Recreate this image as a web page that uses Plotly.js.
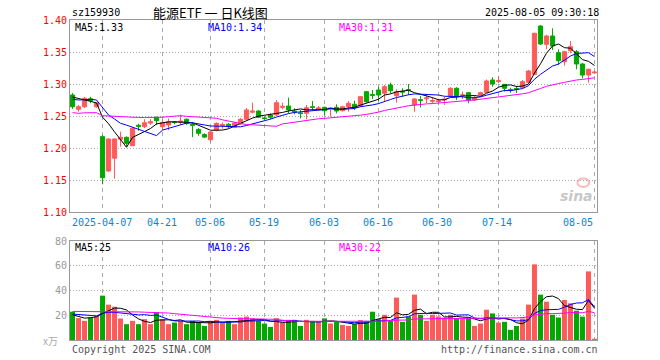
<!DOCTYPE html>
<html><head><meta charset="utf-8">
<script src="https://cdn.plot.ly/plotly-3.0.1.min.js"></script>
<style>html,body{margin:0;padding:0;background:#fff}#chart{width:660px;height:360px}</style>
</head><body><div id="chart"></div>
<script>
const dates = ['2025-03-28','2025-03-31','2025-04-01','2025-04-02','2025-04-03','2025-04-07','2025-04-08','2025-04-09','2025-04-10','2025-04-11',
'2025-04-14','2025-04-15','2025-04-16','2025-04-17','2025-04-18','2025-04-21','2025-04-22','2025-04-23','2025-04-24','2025-04-25',
'2025-04-28','2025-04-29','2025-04-30','2025-05-06','2025-05-07','2025-05-08','2025-05-09','2025-05-12','2025-05-13','2025-05-14',
'2025-05-15','2025-05-16','2025-05-19','2025-05-20','2025-05-21','2025-05-22','2025-05-23','2025-05-26','2025-05-27','2025-05-28',
'2025-05-29','2025-05-30','2025-06-03','2025-06-04','2025-06-05','2025-06-06','2025-06-09','2025-06-10','2025-06-11','2025-06-12',
'2025-06-13','2025-06-16','2025-06-17','2025-06-18','2025-06-19','2025-06-20','2025-06-23','2025-06-24','2025-06-25','2025-06-26',
'2025-06-27','2025-06-30','2025-07-01','2025-07-02','2025-07-03','2025-07-04','2025-07-07','2025-07-08','2025-07-09','2025-07-10',
'2025-07-11','2025-07-14','2025-07-15','2025-07-16','2025-07-17','2025-07-18','2025-07-21','2025-07-22','2025-07-23','2025-07-24',
'2025-07-25','2025-07-28','2025-07-29','2025-07-30','2025-07-31','2025-08-01','2025-08-04','2025-08-05'];

const open = [1.2828,1.2605,1.2645,1.2770,1.2645,1.2177,1.1640,1.1840,1.2136,1.2167,
1.2036,1.2355,1.2333,1.2390,1.2480,1.2333,1.2360,1.2410,1.2400,1.2450,
1.2370,1.2290,1.2210,1.2130,1.2280,1.2350,1.2370,1.2325,1.2375,1.2448,
1.2560,1.2578,1.2470,1.2516,1.2516,1.2635,1.2656,1.2575,1.2548,1.2542,
1.2645,1.2610,1.2636,1.2610,1.2636,1.2583,1.2645,1.2683,1.2661,1.2880,
1.2835,1.2906,1.2855,1.2984,1.2817,1.2885,1.2912,1.2672,1.2755,1.2770,
1.2730,1.2727,1.2752,1.2813,1.2933,1.2820,1.2864,1.2750,1.2828,1.2870,
1.3062,1.3040,1.2995,1.2912,1.2928,1.2942,1.3027,1.3152,1.3906,1.3620,
1.3750,1.3489,1.3348,1.3520,1.3505,1.3312,1.3140,1.3175];

const high = [1.2859,1.2672,1.2797,1.2800,1.2720,1.2203,1.2150,1.2150,1.2255,1.2180,
1.2330,1.2378,1.2450,1.2450,1.2490,1.2450,1.2460,1.2420,1.2520,1.2460,
1.2400,1.2310,1.2230,1.2260,1.2400,1.2400,1.2390,1.2400,1.2470,1.2625,
1.2708,1.2590,1.2490,1.2540,1.2750,1.2708,1.2786,1.2620,1.2594,1.2672,
1.2734,1.2656,1.2645,1.2630,1.2683,1.2660,1.2734,1.2740,1.2810,1.2890,
1.2906,1.2958,1.2984,1.3020,1.2917,1.2933,1.3000,1.2780,1.2810,1.2828,
1.2792,1.2770,1.2800,1.2950,1.2950,1.2880,1.2875,1.2820,1.2880,1.3070,
1.3105,1.3125,1.3000,1.2942,1.2970,1.3062,1.3220,1.3800,1.3922,1.3770,
1.3870,1.3542,1.3520,1.3672,1.3531,1.3330,1.3240,1.3210];

const low = [1.2610,1.2567,1.2625,1.2700,1.2630,1.1433,1.1625,1.1520,1.2020,1.2020,
1.2030,1.2270,1.2310,1.2360,1.2360,1.2280,1.2280,1.2370,1.2360,1.2360,
1.2170,1.2190,1.2160,1.2090,1.2260,1.2300,1.2310,1.2310,1.2360,1.2437,
1.2542,1.2470,1.2440,1.2450,1.2500,1.2605,1.2542,1.2526,1.2464,1.2448,
1.2594,1.2594,1.2505,1.2490,1.2542,1.2570,1.2567,1.2594,1.2640,1.2710,
1.2765,1.2734,1.2723,1.2855,1.2708,1.2802,1.2828,1.2567,1.2635,1.2700,
1.2698,1.2672,1.2672,1.2800,1.2750,1.2766,1.2700,1.2740,1.2810,1.2860,
1.2958,1.3010,1.2880,1.2864,1.2860,1.2930,1.3010,1.3140,1.3610,1.3542,
1.3531,1.3297,1.3286,1.3480,1.3230,1.3089,1.3020,1.3160];

const close = [1.2645,1.2645,1.2777,1.2740,1.2708,1.1536,1.2140,1.2141,1.2167,1.2073,
1.2308,1.2340,1.2395,1.2410,1.2427,1.2395,1.2410,1.2400,1.2420,1.2383,
1.2355,1.2230,1.2170,1.2250,1.2385,1.2365,1.2333,1.2390,1.2448,1.2594,
1.2575,1.2480,1.2460,1.2480,1.2708,1.2650,1.2594,1.2565,1.2538,1.2630,
1.2635,1.2625,1.2583,1.2625,1.2578,1.2645,1.2698,1.2630,1.2802,1.2723,
1.2823,1.2828,1.2958,1.2895,1.2880,1.2875,1.2902,1.2766,1.2745,1.2782,
1.2740,1.2735,1.2762,1.2933,1.2802,1.2830,1.2750,1.2786,1.2864,1.3047,
1.3000,1.3050,1.2933,1.2902,1.2918,1.3036,1.3203,1.3792,1.3625,1.3750,
1.3594,1.3364,1.3505,1.3583,1.3312,1.3140,1.3230,1.3185];

// volume, 万手
const volume = [22.9,17.7,15.5,18.2,19.6,35.9,28.6,26.9,17.4,12.8,
15.5,12.8,16.9,12.8,22.3,16.9,12.8,14.1,15.5,12.8,
15.5,14.1,11.4,15.5,16.3,14.1,15.5,12.8,18.2,18.9,
17.5,15.5,13.3,10.6,17.7,14.1,16.3,16.3,11.4,16.3,
15.5,14.7,17.5,13.3,14.7,12.2,11.4,12.8,16.1,15.5,
22.9,16.9,20.4,15.5,34.3,14.7,19.0,36.7,20.4,15.5,
20.4,19.0,18.2,20.4,17.5,17.5,18.2,11.4,13.3,24.5,
21.5,14.1,14.7,8.2,11.4,17.4,28.6,61.2,36.7,31.0,
20.4,18.2,32.4,29.7,23.7,18.9,55.5,1.0];

const ma5Head = [1.2797,1.2770,1.2750,1.2730];
const ma10Head = [1.2761,1.2750,1.2755,1.2761,1.2750,1.2625,1.2516,1.2453,1.2386];
const ma30Head = [1.2552,1.2542,1.2550,1.2552,1.2552,1.2505,1.2500,1.2500,1.2495,1.2480,
1.2477,1.2477,1.2477,1.2477,1.2477,1.2480,1.2490,1.2500,1.2505,1.2495,
1.2490,1.2490,1.2475,1.2470,1.2465,1.2440,1.2420,1.2400,1.2385];
const vma5Head = [20.4,18.8,17.7,18.0];
const vma10Head = [21.0,20.5,20.0,19.5,19.5,21.6,22.4,22.4,21.8];
const vma30Head = [23.1,23.1,23.0,23.0,23.0,23.2,23.3,23.3,23.2,23.0,
22.9,22.7,22.5,22.4,22.3,22.1,21.8,21.3,20.8,20.3,
19.6,19.2,18.8,18.4,18.0,17.7,17.5,17.4,17.3];

const tickDates = ['2025-04-07','2025-04-21','2025-05-06','2025-05-19','2025-06-03','2025-06-16','2025-06-30','2025-07-14','2025-08-05'];
const tickLabels = ['2025-04-07','04-21','05-06','05-19','06-03','06-16','06-30','07-14','08-05'];
const priceTicks = [1.10,1.15,1.20,1.25,1.30,1.35,1.40];
const volTicks = [20,40,60,80];

function movingAvg(arr, n, head) {
  return arr.map((_, i) => {
    if (i < n - 1) return head[i];
    let s = 0;
    for (let k = i - n + 1; k <= i; k++) s += arr[k];
    return s / n;
  });
}
const ma5 = movingAvg(close, 5, ma5Head);
const ma10 = movingAvg(close, 10, ma10Head);
const ma30 = movingAvg(close, 30, ma30Head);
const vma5 = movingAvg(volume, 5, vma5Head);
const vma10 = movingAvg(volume, 10, vma10Head);
const vma30 = movingAvg(volume, 30, vma30Head);

const RED = '#ff5a5a', GREEN = '#00a800';
const volColors = close.map((c, i) => c >= open[i] ? RED : GREEN);

const traces = [
  {type:'candlestick', x:dates, open:open, high:high, low:low, close:close, xaxis:'x', yaxis:'y',
   increasing:{line:{color:RED, width:1}, fillcolor:RED},
   decreasing:{line:{color:GREEN, width:1}, fillcolor:GREEN},
   whiskerwidth:0, hoverinfo:'skip'},
  {type:'scatter', mode:'lines', x:dates, y:ma5, xaxis:'x', yaxis:'y', line:{color:'#000', width:1}, hoverinfo:'skip'},
  {type:'scatter', mode:'lines', x:dates, y:ma10, xaxis:'x', yaxis:'y', line:{color:'#0000ff', width:1}, hoverinfo:'skip'},
  {type:'scatter', mode:'lines', x:dates, y:ma30, xaxis:'x', yaxis:'y', line:{color:'#ff00ff', width:1}, hoverinfo:'skip'},
  {type:'bar', x:dates, y:volume, xaxis:'x2', yaxis:'y2', marker:{color:volColors, line:{width:0}}, hoverinfo:'skip'},
  {type:'scatter', mode:'lines', x:dates, y:vma5, xaxis:'x2', yaxis:'y2', line:{color:'#000', width:1}, hoverinfo:'skip'},
  {type:'scatter', mode:'lines', x:dates, y:vma10, xaxis:'x2', yaxis:'y2', line:{color:'#0000ff', width:1}, hoverinfo:'skip'},
  {type:'scatter', mode:'lines', x:dates, y:vma30, xaxis:'x2', yaxis:'y2', line:{color:'#ff00ff', width:1}, hoverinfo:'skip'}
];

const MONO = 'DejaVu Sans Mono, monospace';
const fmt2 = v => v.toFixed(2);
const last = a => a[a.length - 1];

const xBase = {type:'category', categoryorder:'array', categoryarray:dates, range:[-0.42, 87.42],
  showgrid:true, gridcolor:'#aaaaaa', griddash:'4px,4px', gridwidth:1,
  tickvals:tickDates, showticklabels:false, ticks:'',
  showline:true, mirror:true, linecolor:'#999999', linewidth:1, zeroline:false, fixedrange:true};

const annotations = [
  {text:'sz159930', xref:'paper', yref:'paper', x:0, y:1.024, xanchor:'left', yanchor:'middle', showarrow:false, font:{family:MONO, size:10, color:'#000'}},
  {text:'能源ETF 一 日K线图', xref:'paper', yref:'paper', x:0.266, y:1.024, xanchor:'center', yanchor:'middle', showarrow:false, font:{family:'Noto Sans CJK SC', size:13, color:'#000'}},
  {text:'2025-08-05 09:30:18', xref:'paper', yref:'paper', x:1.007, y:1.024, xanchor:'right', yanchor:'middle', showarrow:false, font:{family:MONO, size:10, color:'#000'}},
  {text:'MA5:' + fmt2(last(ma5)), xref:'paper', yref:'paper', x:0.005, y:0.978, xanchor:'left', yanchor:'middle', showarrow:false, font:{family:MONO, size:10, color:'#000'}},
  {text:'MA10:' + fmt2(last(ma10)), xref:'paper', yref:'paper', x:0.258, y:0.978, xanchor:'left', yanchor:'middle', showarrow:false, font:{family:MONO, size:10, color:'#0000ff'}},
  {text:'MA30:' + fmt2(last(ma30)), xref:'paper', yref:'paper', x:0.507, y:0.978, xanchor:'left', yanchor:'middle', showarrow:false, font:{family:MONO, size:10, color:'#ff00ff'}},
  {text:'MA5:' + Math.floor(last(vma5)), xref:'paper', yref:'paper', x:0.005, y:0.29, xanchor:'left', yanchor:'middle', showarrow:false, font:{family:MONO, size:10, color:'#000'}},
  {text:'MA10:' + Math.floor(last(vma10)), xref:'paper', yref:'paper', x:0.258, y:0.29, xanchor:'left', yanchor:'middle', showarrow:false, font:{family:MONO, size:10, color:'#0000ff'}},
  {text:'MA30:' + Math.floor(last(vma30)), xref:'paper', yref:'paper', x:0.507, y:0.29, xanchor:'left', yanchor:'middle', showarrow:false, font:{family:MONO, size:10, color:'#ff00ff'}},
  {text:'x万', xref:'paper', yref:'paper', x:-0.019, y:-0.003, xanchor:'right', yanchor:'middle', showarrow:false, font:{family:'Noto Sans CJK SC', size:10, color:'#aaaaaa'}},
  {text:'Copyright 2025 SINA.COM', xref:'paper', yref:'paper', x:0, y:-0.031, xanchor:'left', yanchor:'middle', showarrow:false, font:{family:MONO, size:10, color:'#555'}},
  {text:'http://finance.sina.com.cn', xref:'paper', yref:'paper', x:1.006, y:-0.031, xanchor:'right', yanchor:'middle', showarrow:false, font:{family:MONO, size:10, color:'#555'}},
  {text:'sina', xref:'paper', yref:'paper', x:0.996, y:0.45, xanchor:'right', yanchor:'middle', showarrow:false, font:{family:'DejaVu Sans', size:14, color:'rgba(150,150,150,0.55)', style:'italic', weight:'bold'}}
];
tickDates.forEach((d, k) => {
  const lastOne = (k === tickDates.length - 1);
  annotations.push({text:tickLabels[k], xref:'x', yref:'paper', x:d, y:0.368,
    xanchor: lastOne ? 'right' : 'center', xshift: lastOne ? 1 : -1, yanchor:'middle', showarrow:false,
    font:{family:MONO, size:10, color:'#0a84d4'}});
});

const layout = {
  width:660, height:360, margin:{l:70, r:63, t:20, b:20, pad:0},
  paper_bgcolor:'#fff', plot_bgcolor:'#fff', showlegend:false,
  font:{family:MONO, size:10, color:'#000'},
  boxgap:0.3, boxgroupgap:0, bargap:0.17,
  xaxis:Object.assign({}, xBase, {anchor:'y', rangeslider:{visible:false}}),
  xaxis2:Object.assign({}, xBase, {anchor:'y2', matches:'x'}),
  yaxis:{domain:[0.4, 1], range:[1.10, 1.40], tickvals:priceTicks, tickformat:'.2f', ticks:'',
    tickfont:{family:MONO, size:10, color:'#ff0000'}, showgrid:true, gridcolor:'#aaaaaa', griddash:'1px,2px',
    showline:true, mirror:true, linecolor:'#999999', zeroline:false, fixedrange:true, anchor:'x'},
  yaxis2:{domain:[0, 0.309], range:[0, 80], tickvals:volTicks, ticks:'',
    tickfont:{family:MONO, size:10, color:'#999999'}, showgrid:true, gridcolor:'#aaaaaa', griddash:'1px,2px',
    showline:true, mirror:true, linecolor:'#999999', zeroline:false, fixedrange:true, anchor:'x2'},
  annotations:annotations,
  shapes:[
    {type:'circle', xref:'paper', yref:'paper', x0:0.963, x1:0.985, y0:0.478, y1:0.505, line:{color:'rgba(240,120,120,0.5)', width:2}}
  ]
};

Plotly.newPlot('chart', traces, layout, {staticPlot:true, displayModeBar:false});
</script>
</body></html>
